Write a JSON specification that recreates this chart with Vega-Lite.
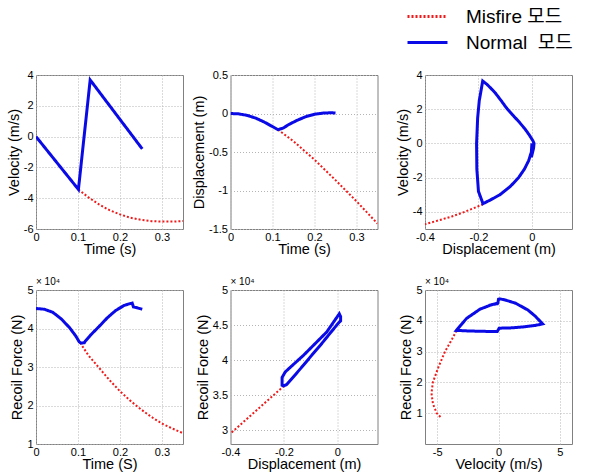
{
  "$schema": "https://vega.github.io/schema/vega-lite/v6.json",
  "padding": {"left": 5, "top": 4, "right": 5, "bottom": 2},
  "background": "white",
  "datasets": {
    "velocity_time": [
      {"mode": "Misfire 모드", "time": 0.101, "velocity": -3.43},
      {"mode": "Misfire 모드", "time": 0.125, "velocity": -3.95},
      {"mode": "Misfire 모드", "time": 0.15, "velocity": -4.4},
      {"mode": "Misfire 모드", "time": 0.175, "velocity": -4.78},
      {"mode": "Misfire 모드", "time": 0.2, "velocity": -5.05},
      {"mode": "Misfire 모드", "time": 0.225, "velocity": -5.27},
      {"mode": "Misfire 모드", "time": 0.25, "velocity": -5.4},
      {"mode": "Misfire 모드", "time": 0.275, "velocity": -5.49},
      {"mode": "Misfire 모드", "time": 0.3, "velocity": -5.52},
      {"mode": "Misfire 모드", "time": 0.325, "velocity": -5.52},
      {"mode": "Misfire 모드", "time": 0.35, "velocity": -5.48},
      {"mode": "Normal\u00a0 모드", "time": 0, "velocity": 0},
      {"mode": "Normal\u00a0 모드", "time": 0.101, "velocity": -3.43},
      {"mode": "Normal\u00a0 모드", "time": 0.129, "velocity": 3.68},
      {"mode": "Normal\u00a0 모드", "time": 0.253, "velocity": -0.8}
    ],
    "displacement_time": [
      {"mode": "Misfire 모드", "time": 0.113, "displacement": -0.21},
      {"mode": "Misfire 모드", "time": 0.15, "displacement": -0.36},
      {"mode": "Misfire 모드", "time": 0.2, "displacement": -0.6},
      {"mode": "Misfire 모드", "time": 0.25, "displacement": -0.865},
      {"mode": "Misfire 모드", "time": 0.3, "displacement": -1.14},
      {"mode": "Misfire 모드", "time": 0.35, "displacement": -1.43},
      {"mode": "Normal\u00a0 모드", "time": 0, "displacement": 0},
      {"mode": "Normal\u00a0 모드", "time": 0.02, "displacement": -0.005},
      {"mode": "Normal\u00a0 모드", "time": 0.04, "displacement": -0.025},
      {"mode": "Normal\u00a0 모드", "time": 0.06, "displacement": -0.06},
      {"mode": "Normal\u00a0 모드", "time": 0.08, "displacement": -0.11},
      {"mode": "Normal\u00a0 모드", "time": 0.1, "displacement": -0.17},
      {"mode": "Normal\u00a0 모드", "time": 0.113, "displacement": -0.21},
      {"mode": "Normal\u00a0 모드", "time": 0.125, "displacement": -0.19},
      {"mode": "Normal\u00a0 모드", "time": 0.14, "displacement": -0.14},
      {"mode": "Normal\u00a0 모드", "time": 0.16, "displacement": -0.085},
      {"mode": "Normal\u00a0 모드", "time": 0.18, "displacement": -0.04},
      {"mode": "Normal\u00a0 모드", "time": 0.2, "displacement": -0.01},
      {"mode": "Normal\u00a0 모드", "time": 0.22, "displacement": 0.005},
      {"mode": "Normal\u00a0 모드", "time": 0.24, "displacement": 0.01},
      {"mode": "Normal\u00a0 모드", "time": 0.25, "displacement": 0.005}
    ],
    "velocity_displacement": [
      {"mode": "Misfire 모드", "displacement": -0.183, "velocity": -3.55},
      {"mode": "Misfire 모드", "displacement": -0.22, "velocity": -3.8},
      {"mode": "Misfire 모드", "displacement": -0.26, "velocity": -4.05},
      {"mode": "Misfire 모드", "displacement": -0.3, "velocity": -4.27},
      {"mode": "Misfire 모드", "displacement": -0.35, "velocity": -4.5},
      {"mode": "Misfire 모드", "displacement": -0.4, "velocity": -4.72},
      {"mode": "Normal\u00a0 모드", "displacement": 0, "velocity": 0},
      {"mode": "Normal\u00a0 모드", "displacement": -0.002, "velocity": -0.5},
      {"mode": "Normal\u00a0 모드", "displacement": -0.012, "velocity": -1.0},
      {"mode": "Normal\u00a0 모드", "displacement": -0.028, "velocity": -1.5},
      {"mode": "Normal\u00a0 모드", "displacement": -0.05, "velocity": -2.0},
      {"mode": "Normal\u00a0 모드", "displacement": -0.08, "velocity": -2.5},
      {"mode": "Normal\u00a0 모드", "displacement": -0.12, "velocity": -3.0},
      {"mode": "Normal\u00a0 모드", "displacement": -0.155, "velocity": -3.3},
      {"mode": "Normal\u00a0 모드", "displacement": -0.183, "velocity": -3.52},
      {"mode": "Normal\u00a0 모드", "displacement": -0.2, "velocity": -2.8},
      {"mode": "Normal\u00a0 모드", "displacement": -0.206, "velocity": -1.5},
      {"mode": "Normal\u00a0 모드", "displacement": -0.207, "velocity": 0},
      {"mode": "Normal\u00a0 모드", "displacement": -0.203, "velocity": 1.5},
      {"mode": "Normal\u00a0 모드", "displacement": -0.197, "velocity": 2.5},
      {"mode": "Normal\u00a0 모드", "displacement": -0.184, "velocity": 3.65},
      {"mode": "Normal\u00a0 모드", "displacement": -0.168, "velocity": 3.45},
      {"mode": "Normal\u00a0 모드", "displacement": -0.152, "velocity": 3.2},
      {"mode": "Normal\u00a0 모드", "displacement": -0.137, "velocity": 2.95},
      {"mode": "Normal\u00a0 모드", "displacement": -0.115, "velocity": 2.5},
      {"mode": "Normal\u00a0 모드", "displacement": -0.094, "velocity": 2.05},
      {"mode": "Normal\u00a0 모드", "displacement": -0.068, "velocity": 1.6},
      {"mode": "Normal\u00a0 모드", "displacement": -0.046, "velocity": 1.22},
      {"mode": "Normal\u00a0 모드", "displacement": -0.026, "velocity": 0.85},
      {"mode": "Normal\u00a0 모드", "displacement": -0.01, "velocity": 0.5},
      {"mode": "Normal\u00a0 모드", "displacement": 0.004, "velocity": 0.15},
      {"mode": "Normal\u00a0 모드", "displacement": 0.008, "velocity": 0},
      {"mode": "Normal\u00a0 모드", "displacement": 0.006, "velocity": -0.3},
      {"mode": "Normal\u00a0 모드", "displacement": 0.002, "velocity": -0.55},
      {"mode": "Normal\u00a0 모드", "displacement": -0.002, "velocity": -0.8}
    ],
    "force_time": [
      {"mode": "Misfire 모드", "time": 0.105, "force": 36300},
      {"mode": "Misfire 모드", "time": 0.125, "force": 33000},
      {"mode": "Misfire 모드", "time": 0.15, "force": 29800},
      {"mode": "Misfire 모드", "time": 0.175, "force": 26600},
      {"mode": "Misfire 모드", "time": 0.2, "force": 23700},
      {"mode": "Misfire 모드", "time": 0.225, "force": 21200},
      {"mode": "Misfire 모드", "time": 0.25, "force": 19000},
      {"mode": "Misfire 모드", "time": 0.275, "force": 17000},
      {"mode": "Misfire 모드", "time": 0.3, "force": 15300},
      {"mode": "Misfire 모드", "time": 0.325, "force": 14000},
      {"mode": "Misfire 모드", "time": 0.35, "force": 12800},
      {"mode": "Normal\u00a0 모드", "time": 0, "force": 45200},
      {"mode": "Normal\u00a0 모드", "time": 0.02, "force": 45000},
      {"mode": "Normal\u00a0 모드", "time": 0.04, "force": 44200},
      {"mode": "Normal\u00a0 모드", "time": 0.06, "force": 42500},
      {"mode": "Normal\u00a0 모드", "time": 0.08, "force": 40200},
      {"mode": "Normal\u00a0 모드", "time": 0.095, "force": 38000},
      {"mode": "Normal\u00a0 모드", "time": 0.103, "force": 36500},
      {"mode": "Normal\u00a0 모드", "time": 0.108, "force": 36200},
      {"mode": "Normal\u00a0 모드", "time": 0.115, "force": 36300},
      {"mode": "Normal\u00a0 모드", "time": 0.118, "force": 36800},
      {"mode": "Normal\u00a0 모드", "time": 0.13, "force": 38300},
      {"mode": "Normal\u00a0 모드", "time": 0.15, "force": 40500},
      {"mode": "Normal\u00a0 모드", "time": 0.17, "force": 42800},
      {"mode": "Normal\u00a0 모드", "time": 0.19, "force": 44700},
      {"mode": "Normal\u00a0 모드", "time": 0.21, "force": 46000},
      {"mode": "Normal\u00a0 모드", "time": 0.225, "force": 46500},
      {"mode": "Normal\u00a0 모드", "time": 0.229, "force": 46600},
      {"mode": "Normal\u00a0 모드", "time": 0.232, "force": 45600},
      {"mode": "Normal\u00a0 모드", "time": 0.24, "force": 45400},
      {"mode": "Normal\u00a0 모드", "time": 0.253, "force": 45000}
    ],
    "force_displacement": [
      {"mode": "Misfire 모드", "displacement": -0.2, "force": 36300},
      {"mode": "Misfire 모드", "displacement": -0.25, "force": 34600},
      {"mode": "Misfire 모드", "displacement": -0.3, "force": 32900},
      {"mode": "Misfire 모드", "displacement": -0.35, "force": 31200},
      {"mode": "Misfire 모드", "displacement": -0.4, "force": 29500},
      {"mode": "Normal\u00a0 모드", "displacement": 0, "force": 45100},
      {"mode": "Normal\u00a0 모드", "displacement": -0.03, "force": 43700},
      {"mode": "Normal\u00a0 모드", "displacement": -0.064, "force": 42100},
      {"mode": "Normal\u00a0 모드", "displacement": -0.1, "force": 40500},
      {"mode": "Normal\u00a0 모드", "displacement": -0.126, "force": 39300},
      {"mode": "Normal\u00a0 모드", "displacement": -0.16, "force": 37800},
      {"mode": "Normal\u00a0 모드", "displacement": -0.19, "force": 36500},
      {"mode": "Normal\u00a0 모드", "displacement": -0.2, "force": 36300},
      {"mode": "Normal\u00a0 모드", "displacement": -0.207, "force": 36400},
      {"mode": "Normal\u00a0 모드", "displacement": -0.207, "force": 37500},
      {"mode": "Normal\u00a0 모드", "displacement": -0.195, "force": 38300},
      {"mode": "Normal\u00a0 모드", "displacement": -0.175, "force": 39000},
      {"mode": "Normal\u00a0 모드", "displacement": -0.126, "force": 40700},
      {"mode": "Normal\u00a0 모드", "displacement": -0.04, "force": 44000},
      {"mode": "Normal\u00a0 모드", "displacement": 0.007, "force": 46600},
      {"mode": "Normal\u00a0 모드", "displacement": 0.012, "force": 46200},
      {"mode": "Normal\u00a0 모드", "displacement": 0.012, "force": 45600},
      {"mode": "Normal\u00a0 모드", "displacement": 0, "force": 45100}
    ],
    "force_velocity": [
      {"mode": "Misfire 모드", "velocity": -3.43, "force": 36800},
      {"mode": "Misfire 모드", "velocity": -3.8, "force": 34000},
      {"mode": "Misfire 모드", "velocity": -4.37, "force": 30000},
      {"mode": "Misfire 모드", "velocity": -4.9, "force": 25000},
      {"mode": "Misfire 모드", "velocity": -5.36, "force": 20000},
      {"mode": "Misfire 모드", "velocity": -5.47, "force": 16500},
      {"mode": "Misfire 모드", "velocity": -5.35, "force": 13000},
      {"mode": "Misfire 모드", "velocity": -5.04, "force": 10000},
      {"mode": "Misfire 모드", "velocity": -4.64, "force": 8400},
      {"mode": "Normal\u00a0 모드", "velocity": 0, "force": 45600},
      {"mode": "Normal\u00a0 모드", "velocity": -0.5, "force": 45300},
      {"mode": "Normal\u00a0 모드", "velocity": -1.5, "force": 43800},
      {"mode": "Normal\u00a0 모드", "velocity": -2.6, "force": 40800},
      {"mode": "Normal\u00a0 모드", "velocity": -3.1, "force": 38500},
      {"mode": "Normal\u00a0 모드", "velocity": -3.43, "force": 36900},
      {"mode": "Normal\u00a0 모드", "velocity": -2.5, "force": 36700},
      {"mode": "Normal\u00a0 모드", "velocity": -1.5, "force": 36600},
      {"mode": "Normal\u00a0 모드", "velocity": -0.1, "force": 36500},
      {"mode": "Normal\u00a0 모드", "velocity": 0.05, "force": 37600},
      {"mode": "Normal\u00a0 모드", "velocity": 1, "force": 37700},
      {"mode": "Normal\u00a0 모드", "velocity": 2, "force": 38000},
      {"mode": "Normal\u00a0 모드", "velocity": 3, "force": 38500},
      {"mode": "Normal\u00a0 모드", "velocity": 3.6, "force": 39000},
      {"mode": "Normal\u00a0 모드", "velocity": 3.0, "force": 41500},
      {"mode": "Normal\u00a0 모드", "velocity": 2.4, "force": 43500},
      {"mode": "Normal\u00a0 모드", "velocity": 1.4, "force": 45700},
      {"mode": "Normal\u00a0 모드", "velocity": 0.6, "force": 46700},
      {"mode": "Normal\u00a0 모드", "velocity": 0.15, "force": 47100},
      {"mode": "Normal\u00a0 모드", "velocity": 0, "force": 47000},
      {"mode": "Normal\u00a0 모드", "velocity": -0.05, "force": 45800},
      {"mode": "Normal\u00a0 모드", "velocity": -0.3, "force": 45500},
      {"mode": "Normal\u00a0 모드", "velocity": -0.8, "force": 45000}
    ]
  },
  "columns": 3,
  "spacing": {"row": 61, "column": 47.5},
  "bounds": "flush",
  "resolve": {"legend": {"color": "independent", "strokeDash": "independent"}},
  "concat": [
    {
      "data": {"name": "velocity_time"},
      "width": 147, "height": 154,
      "mark": {"type": "line", "clip": true},
      "encoding": {
        "x": {"field": "time", "type": "quantitative", "scale": {"domain": [0, 0.35], "nice": false, "zero": false},
              "axis": {"title": "Time (s)", "values": [0, 0.1, 0.2, 0.3], "labelExpr": "datum.value + ''"}},
        "y": {"field": "velocity", "type": "quantitative", "scale": {"domain": [-6, 4], "nice": false, "zero": false},
              "axis": {"title": "Velocity (m/s)", "values": [-6, -4, -2, 0, 2, 4], "labelExpr": "datum.value + ''"}},
        "color": {"field": "mode", "type": "nominal", "scale": {"domain": ["Misfire 모드", "Normal\u00a0 모드"], "range": ["#f01a1a", "#0a0ae6"]}, "legend": null},
        "strokeDash": {"field": "mode", "type": "nominal", "scale": {"domain": ["Misfire 모드", "Normal\u00a0 모드"], "range": [[2, 2], [1, 0]]}, "legend": null},
        "strokeWidth": {"field": "mode", "type": "nominal", "scale": {"domain": ["Misfire 모드", "Normal\u00a0 모드"], "range": [2, 3]}, "legend": null},
        "order": {"value": null}
      }
    },
    {
      "data": {"name": "displacement_time"},
      "width": 147, "height": 154,
      "mark": {"type": "line", "clip": true},
      "encoding": {
        "x": {"field": "time", "type": "quantitative", "scale": {"domain": [0, 0.35], "nice": false, "zero": false},
              "axis": {"title": "Time (s)", "values": [0, 0.1, 0.2, 0.3], "labelExpr": "datum.value + ''"}},
        "y": {"field": "displacement", "type": "quantitative", "scale": {"domain": [-1.5, 0.5], "nice": false, "zero": false},
              "axis": {"title": "Displacement (m)", "values": [-1.5, -1, -0.5, 0, 0.5], "labelExpr": "datum.value + ''"}},
        "color": {"field": "mode", "type": "nominal", "legend": null},
        "strokeDash": {"field": "mode", "type": "nominal", "legend": null},
        "strokeWidth": {"field": "mode", "type": "nominal", "legend": null},
        "order": {"value": null}
      }
    },
    {
      "data": {"name": "velocity_displacement"},
      "width": 147, "height": 154,
      "mark": {"type": "line", "clip": true},
      "encoding": {
        "x": {"field": "displacement", "type": "quantitative", "scale": {"domain": [-0.4, 0.15], "nice": false, "zero": false},
              "axis": {"title": "Displacement (m)", "values": [-0.4, -0.2, 0], "labelExpr": "datum.value + ''"}},
        "y": {"field": "velocity", "type": "quantitative", "scale": {"domain": [-5, 4], "nice": false, "zero": false},
              "axis": {"title": "Velocity (m/s)", "values": [-4, -2, 0, 2, 4], "labelExpr": "datum.value + ''"}},
        "color": {"field": "mode", "type": "nominal",
                  "legend": {"orient": "none", "legendX": -9, "legendY": -70, "title": null}},
        "strokeDash": {"field": "mode", "type": "nominal",
                  "legend": {"orient": "none", "legendX": -9, "legendY": -70, "title": null}},
        "strokeWidth": {"field": "mode", "type": "nominal", "legend": null},
        "order": {"value": null}
      }
    },
    {
      "data": {"name": "force_time"},
      "width": 147, "height": 154,
      "title": {"text": "× 10⁴", "anchor": "start", "frame": "group", "fontSize": 10, "fontWeight": "normal", "offset": -3},
      "mark": {"type": "line", "clip": true},
      "encoding": {
        "x": {"field": "time", "type": "quantitative", "scale": {"domain": [0, 0.35], "nice": false, "zero": false},
              "axis": {"title": "Time (S)", "values": [0, 0.1, 0.2, 0.3], "labelExpr": "datum.value + ''"}},
        "y": {"field": "force", "type": "quantitative", "scale": {"domain": [10000, 50000], "nice": false, "zero": false},
              "axis": {"title": "Recoil Force (N)", "values": [10000, 20000, 30000, 40000, 50000], "labelExpr": "(datum.value / 10000) + ''"}},
        "color": {"field": "mode", "type": "nominal", "legend": null},
        "strokeDash": {"field": "mode", "type": "nominal", "legend": null},
        "strokeWidth": {"field": "mode", "type": "nominal", "legend": null},
        "order": {"value": null}
      }
    },
    {
      "data": {"name": "force_displacement"},
      "width": 147, "height": 154,
      "title": {"text": "× 10⁴", "anchor": "start", "frame": "group", "fontSize": 10, "fontWeight": "normal", "offset": -3},
      "mark": {"type": "line", "clip": true},
      "encoding": {
        "x": {"field": "displacement", "type": "quantitative", "scale": {"domain": [-0.4, 0.15], "nice": false, "zero": false},
              "axis": {"title": "Displacement (m)", "values": [-0.4, -0.2, 0], "labelExpr": "datum.value + ''"}},
        "y": {"field": "force", "type": "quantitative", "scale": {"domain": [28000, 50000], "nice": false, "zero": false},
              "axis": {"title": "Recoil Force (N)", "values": [30000, 35000, 40000, 45000, 50000], "labelExpr": "(datum.value / 10000) + ''"}},
        "color": {"field": "mode", "type": "nominal", "legend": null},
        "strokeDash": {"field": "mode", "type": "nominal", "legend": null},
        "strokeWidth": {"field": "mode", "type": "nominal", "legend": null},
        "order": {"value": null}
      }
    },
    {
      "data": {"name": "force_velocity"},
      "width": 147, "height": 154,
      "title": {"text": "× 10⁴", "anchor": "start", "frame": "group", "fontSize": 10, "fontWeight": "normal", "offset": -3},
      "mark": {"type": "line", "clip": true},
      "encoding": {
        "x": {"field": "velocity", "type": "quantitative", "scale": {"domain": [-6, 6], "nice": false, "zero": false},
              "axis": {"title": "Velocity (m/s)", "values": [-5, 0, 5], "labelExpr": "datum.value + ''"}},
        "y": {"field": "force", "type": "quantitative", "scale": {"domain": [0, 50000], "nice": false, "zero": false},
              "axis": {"title": "Recoil Force (N)", "values": [10000, 20000, 30000, 40000, 50000], "labelExpr": "(datum.value / 10000) + ''"}},
        "color": {"field": "mode", "type": "nominal", "legend": null},
        "strokeDash": {"field": "mode", "type": "nominal", "legend": null},
        "strokeWidth": {"field": "mode", "type": "nominal", "legend": null},
        "order": {"value": null}
      }
    }
  ],
  "config": {
    "font": "Liberation Sans, Noto Sans CJK KR",
    "view": {"stroke": "#808080", "strokeWidth": 1},
    "axis": {
      "domain": false, "ticks": false, "grid": true,
      "gridColor": "#b4b4b4", "gridDash": [1, 2], "gridWidth": 1,
      "labelFontSize": 11, "labelColor": "#000", "labelPadding": 3,
      "labelFlush": false, "labelOverlap": false,
      "titleFontSize": 14.5, "titleFontWeight": "normal", "titleColor": "#000", "titlePadding": 2
    },
    "axisX": {"titlePadding": 0, "labelPadding": 2},
    "legend": {
      "symbolType": "M-2,0H2", "symbolSize": 400, "symbolStrokeWidth": 3,
      "labelFontSize": 19, "labelColor": "#000", "labelOffset": 27, "rowPadding": 4,
      "labelLimit": 300
    },
    "title": {"color": "#000", "font": "Liberation Sans"}
  }
}
